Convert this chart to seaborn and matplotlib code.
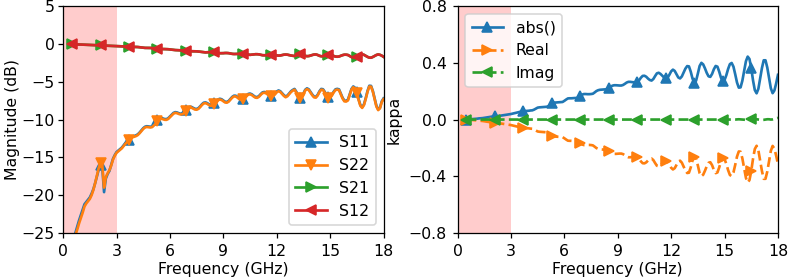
import numpy as np
import matplotlib
matplotlib.use("Agg")
import matplotlib.pyplot as plt
import seaborn as sns

# frequency sweep in GHz (0.5 .. 18.0, 0.1 GHz step)
freq = np.linspace(0.5, 18.0, 176)

# S-parameters magnitude (dB)
s11_db = [
    -26.5, -25.7, -24.9, -24.1, -23.3, -22.6, -21.9, -21.2, -20.9, -20.6,
    -20.3, -19.8, -19.2, -18.4, -17.5, -16.6, -16.0, -16.3, -19.6, -17.8,
    -17.2, -16.8, -16.0, -15.2, -14.7, -14.3, -14.1, -13.9, -13.7, -13.4,
    -13.1, -12.85, -12.65, -12.32, -12.23, -12.17, -12.08, -11.94, -11.70, -11.41,
    -11.14, -10.95, -10.88, -10.92, -10.95, -10.90, -10.68, -10.42, -10.10, -9.85,
    -9.79, -9.85, -9.93, -9.94, -9.83, -9.59, -9.33, -9.12, -9.02, -9.06,
    -9.16, -9.23, -9.19, -9.02, -8.76, -8.48, -8.32, -8.32, -8.44, -8.57,
    -8.60, -8.49, -8.25, -7.97, -7.77, -7.73, -7.83, -7.99, -8.09, -8.05,
    -7.85, -7.58, -7.35, -7.25, -7.31, -7.48, -7.64, -7.67, -7.53, -7.27,
    -7.00, -6.84, -6.85, -7.01, -7.20, -7.29, -7.24, -7.05, -6.80, -6.61,
    -6.56, -6.66, -6.84, -7.00, -7.03, -6.89, -6.63, -6.41, -6.35, -6.43,
    -6.60, -6.77, -6.85, -6.79, -6.57, -6.29, -6.15, -6.25, -6.51, -6.77,
    -6.95, -6.82, -6.55, -6.26, -6.08, -5.95, -6.32, -6.81, -7.09, -6.98,
    -6.55, -6.06, -5.87, -6.00, -6.34, -6.70, -6.97, -7.00, -6.72, -6.26,
    -5.95, -5.99, -6.34, -6.77, -7.02, -7.03, -6.72, -6.31, -6.00, -5.94,
    -6.01, -6.55, -7.12, -7.49, -7.52, -7.37, -6.65, -5.95, -5.62, -5.80,
    -6.33, -7.31, -8.08, -8.36, -7.99, -7.17, -6.23, -5.53, -5.55, -6.22,
    -7.21, -8.18, -8.65, -8.42, -7.59, -7.20,
]
s22_db = [
    -26.8, -26.0, -25.2, -24.5, -23.7, -23.0, -22.3, -21.5, -21.1, -20.8,
    -20.5, -20.0, -19.3, -18.4, -17.4, -16.4, -15.7, -16.0, -19.0, -17.6,
    -17.1, -16.7, -16.1, -15.3, -14.8, -14.4, -14.2, -14.0, -13.8, -13.5,
    -13.2, -12.95, -12.75, -12.42, -12.33, -12.27, -12.18, -12.04, -11.80, -11.51,
    -11.24, -11.05, -10.98, -11.02, -11.05, -11.00, -10.78, -10.52, -10.20, -9.95,
    -9.89, -9.95, -10.03, -10.04, -9.93, -9.69, -9.43, -9.22, -9.12, -9.16,
    -9.26, -9.33, -9.29, -9.12, -8.86, -8.58, -8.42, -8.42, -8.54, -8.67,
    -8.70, -8.59, -8.35, -8.07, -7.87, -7.83, -7.93, -8.09, -8.19, -8.15,
    -7.95, -7.68, -7.45, -7.35, -7.41, -7.58, -7.74, -7.77, -7.63, -7.37,
    -7.10, -6.94, -6.95, -7.11, -7.30, -7.39, -7.34, -7.15, -6.90, -6.71,
    -6.66, -6.76, -6.94, -7.10, -7.13, -6.99, -6.73, -6.51, -6.45, -6.53,
    -6.70, -6.87, -6.95, -6.89, -6.67, -6.39, -6.25, -6.35, -6.61, -6.87,
    -7.05, -6.92, -6.65, -6.36, -6.18, -6.05, -6.42, -6.91, -7.19, -7.08,
    -6.65, -6.16, -5.97, -6.10, -6.44, -6.80, -7.07, -7.10, -6.82, -6.36,
    -6.05, -6.09, -6.44, -6.87, -7.12, -7.13, -6.82, -6.41, -6.10, -6.04,
    -6.11, -6.65, -7.22, -7.59, -7.62, -7.47, -6.75, -6.05, -5.72, -5.90,
    -6.43, -7.41, -8.18, -8.46, -8.09, -7.27, -6.33, -5.63, -5.65, -6.32,
    -7.31, -8.28, -8.75, -8.52, -7.69, -7.30,
]
s21_db = [
    -0.05, -0.06, -0.06, -0.07, -0.07, -0.08, -0.09, -0.10, -0.10, -0.11,
    -0.12, -0.13, -0.14, -0.15, -0.16, -0.17, -0.18, -0.19, -0.20, -0.21,
    -0.22, -0.23, -0.24, -0.25, -0.26, -0.27, -0.28, -0.29, -0.31, -0.32,
    -0.33, -0.35, -0.36, -0.39, -0.39, -0.39, -0.40, -0.41, -0.44, -0.46,
    -0.50, -0.52, -0.52, -0.53, -0.53, -0.54, -0.57, -0.60, -0.62, -0.65,
    -0.67, -0.67, -0.68, -0.69, -0.70, -0.73, -0.77, -0.80, -0.81, -0.82,
    -0.83, -0.83, -0.85, -0.87, -0.90, -0.94, -0.96, -0.97, -0.97, -0.97,
    -0.98, -1.00, -1.03, -1.06, -1.08, -1.12, -1.10, -1.10, -1.08, -1.09,
    -1.13, -1.17, -1.21, -1.23, -1.23, -1.22, -1.20, -1.20, -1.22, -1.27,
    -1.31, -1.33, -1.33, -1.32, -1.30, -1.27, -1.29, -1.33, -1.38, -1.42,
    -1.44, -1.42, -1.39, -1.36, -1.36, -1.38, -1.44, -1.49, -1.50, -1.49,
    -1.45, -1.42, -1.40, -1.41, -1.46, -1.52, -1.55, -1.53, -1.48, -1.42,
    -1.40, -1.42, -1.48, -1.53, -1.57, -1.60, -1.53, -1.44, -1.38, -1.40,
    -1.49, -1.58, -1.62, -1.60, -1.54, -1.46, -1.40, -1.39, -1.46, -1.57,
    -1.63, -1.63, -1.55, -1.46, -1.41, -1.40, -1.48, -1.59, -1.67, -1.69,
    -1.66, -1.57, -1.48, -1.42, -1.42, -1.46, -1.59, -1.73, -1.80, -1.77,
    -1.67, -1.52, -1.41, -1.37, -1.44, -1.57, -1.71, -1.81, -1.82, -1.72,
    -1.59, -1.46, -1.39, -1.44, -1.55, -1.70,
]
# reciprocal network: S12 == S21
s12_db = list(s21_db)

# kappa, real and imaginary part
kappa_real = [
    0.000, -0.001, -0.002, -0.003, -0.004, -0.005, -0.006, -0.008, -0.009, -0.010,
    -0.012, -0.014, -0.016, -0.018, -0.020, -0.022, -0.023, -0.024, -0.025, -0.027,
    -0.029, -0.031, -0.033, -0.035, -0.037, -0.039, -0.042, -0.045, -0.048, -0.051,
    -0.054, -0.057, -0.059, -0.060, -0.061, -0.062, -0.064, -0.065, -0.070, -0.077,
    -0.084, -0.086, -0.087, -0.088, -0.089, -0.090, -0.094, -0.104, -0.114, -0.120,
    -0.120, -0.121, -0.122, -0.123, -0.124, -0.132, -0.141, -0.149, -0.150, -0.150,
    -0.151, -0.152, -0.152, -0.157, -0.167, -0.176, -0.180, -0.180, -0.179, -0.179,
    -0.180, -0.182, -0.191, -0.201, -0.207, -0.210, -0.211, -0.212, -0.213, -0.214,
    -0.220, -0.231, -0.239, -0.242, -0.242, -0.241, -0.240, -0.240, -0.244, -0.252,
    -0.261, -0.266, -0.266, -0.264, -0.263, -0.262, -0.264, -0.277, -0.295, -0.308,
    -0.309, -0.302, -0.289, -0.279, -0.275, -0.286, -0.307, -0.326, -0.330, -0.322,
    -0.310, -0.297, -0.290, -0.295, -0.316, -0.340, -0.352, -0.343, -0.320, -0.297,
    -0.290, -0.304, -0.331, -0.359, -0.377, -0.375, -0.338, -0.289, -0.261, -0.274,
    -0.324, -0.378, -0.400, -0.389, -0.361, -0.329, -0.305, -0.301, -0.322, -0.355,
    -0.378, -0.373, -0.338, -0.295, -0.271, -0.279, -0.313, -0.357, -0.391, -0.399,
    -0.373, -0.319, -0.261, -0.225, -0.227, -0.274, -0.344, -0.411, -0.444, -0.427,
    -0.362, -0.276, -0.208, -0.185, -0.217, -0.288, -0.363, -0.418, -0.418, -0.367,
    -0.293, -0.221, -0.186, -0.205, -0.255, -0.315,
]
kappa_imag = [
    0.0, 0.0, 0.0, 0.0, 0.0, 0.0, 0.0, 0.0, 0.0, 0.0,
    0.0, 0.0, 0.0, 0.0, 0.0, 0.0, 0.0, 0.0, 0.0, 0.0,
    0.0, 0.0, 0.0, 0.0, 0.0, 0.0, 0.0, 0.0, 0.0, 0.0,
    0.0, 0.0, 0.0, 0.0, 0.0, 0.0, 0.0, 0.0, 0.0, 0.0,
    0.0, 0.0, 0.0, 0.0, 0.0, 0.0, 0.0, 0.0, 0.0, 0.0,
    0.0, 0.0, 0.0, 0.0, 0.0, 0.0, 0.0, 0.0, 0.0, 0.0,
    0.0, 0.0, 0.0, 0.0, 0.0, 0.0, 0.0, 0.0, 0.0, 0.0,
    0.0, 0.0, 0.0, 0.0, 0.0, 0.0, 0.0, 0.0, 0.0, 0.0,
    0.0, 0.0, 0.0, 0.0, 0.0, 0.0, 0.0, 0.0, 0.0, 0.0,
    0.0, 0.0, 0.0, 0.0, 0.0, 0.0, 0.0, 0.0, 0.0, 0.0,
    0.0, 0.0, 0.0, 0.0, 0.0, 0.0, 0.0, 0.0, 0.0, 0.0,
    0.0, 0.0, 0.0, 0.0, 0.0, 0.0, 0.0, 0.0, 0.0, 0.0,
    0.0, 0.0, 0.0, 0.0, 0.0, 0.0, 0.0, 0.0, 0.0, 0.0,
    0.0, 0.0, 0.0, 0.0, 0.0, 0.0, 0.0, 0.0, 0.0, 0.0,
    0.0, 0.0, 0.0, 0.0, 0.0, 0.0, 0.0, 0.0, 0.0, 0.0,
    0.0, 0.0, 0.001, 0.002, 0.001, 0.0, -0.001, -0.002, -0.001, 0.0,
    0.001, 0.002, 0.003, 0.002, 0.0, -0.002, -0.003, -0.002, 0.0, 0.002,
    0.002, 0.0, 0.001, 0.004, 0.008, 0.012,
]
kappa_abs = np.abs(np.array(kappa_real) + 1j * np.array(kappa_imag))

s_curves = [("S11", s11_db, "C0", "^"), ("S22", s22_db, "C1", "v"),
            ("S21", s21_db, "C2", ">"), ("S12", s12_db, "C3", "<")]
k_curves = [("abs()", kappa_abs, "C0", "^", "-"), ("Real", kappa_real, "C1", ">", "--"),
            ("Imag", kappa_imag, "C2", "<", "--")]

# original looks rendered at ~113 dpi
fig, (ax1, ax2) = plt.subplots(1, 2, figsize=(789 / 113, 279 / 113), dpi=113)
fig.subplots_adjust(left=0.08, right=0.986, bottom=0.165, top=0.978, wspace=0.231)

# left: S-parameters
ax1.axvspan(0, 3, color="red", alpha=0.2, lw=0)
for name, vals, col, mk in s_curves:
    sns.lineplot(x=freq, y=vals, ax=ax1, label=name, color=col, lw=1.7,
                 marker=mk, markevery=16, markersize=6.5,
                 markeredgecolor=col, markeredgewidth=1)
ax1.set_xlim(0, 18)
ax1.set_ylim(-25, 5)
ax1.set_xticks(range(0, 19, 3))
ax1.set_yticks(range(-25, 6, 5))
ax1.tick_params(axis="y", pad=2)
ax1.set_xlabel("Frequency (GHz)", labelpad=2)
ax1.set_ylabel("Magnitude (dB)", labelpad=1)
ax1.legend(loc="lower right")

# right: kappa
ax2.axvspan(0, 3, color="red", alpha=0.2, lw=0)
for name, vals, col, mk, ls in k_curves:
    sns.lineplot(x=freq, y=vals, ax=ax2, label=name, color=col, lw=1.7,
                 linestyle=ls, marker=mk, markevery=16, markersize=6.5,
                 markeredgecolor=col, markeredgewidth=1)
ax2.set_xlim(0, 18)
ax2.set_ylim(-0.8, 0.8)
ax2.set_xticks(range(0, 19, 3))
ax2.set_yticks([-0.8, -0.4, 0.0, 0.4, 0.8])
ax2.set_xlabel("Frequency (GHz)", labelpad=2)
ax2.set_ylabel("kappa")
ax2.legend(loc="upper left")

fig.savefig("out.png", dpi=113)
